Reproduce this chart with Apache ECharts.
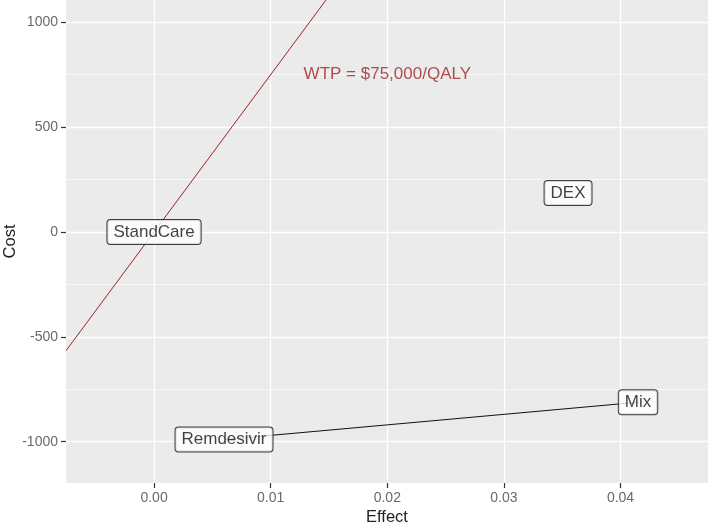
<!DOCTYPE html>
<html>
<head>
<meta charset="utf-8">
<script src="https://cdn.jsdelivr.net/npm/echarts@6/dist/echarts.min.js"></script>
<style>
  html, body { margin: 0; padding: 0; background: #fff; }
  #chart { width: 708px; height: 525px; }
</style>
</head>
<body>
<div id="chart"></div>
<script>
// strategies (effect in QALY, cost in $)
var strategies = ['StandCare', 'Remdesivir', 'DEX', 'Mix'];
var effects = [0.0, 0.006, 0.0355, 0.0415];
var costs = [0, -990, 186, -812];

// efficient frontier
var frontier = ['Remdesivir', 'Mix'];

// willingness to pay
var wtp = 75000;
var wtpText = 'WTP = $75,000/QALY';
var wtpTextPos = [0.02, 750];

// axis ranges and ticks
var xRange = [-0.00755, 0.0475];
var yRange = [-1197, 1106];
var xTicks = [0, 0.01, 0.02, 0.03, 0.04];
var xMinor = [-0.005, 0.005, 0.015, 0.025, 0.035, 0.045];
var yTicks = [-1000, -500, 0, 500, 1000];
var yMinor = [-750, -250, 250, 750];

var font = 'Liberation Sans, Arial, sans-serif';
var red = '#9E2424';

var chart = echarts.init(document.getElementById('chart'));

// gridlines, ggplot style
var gridLines = [];
xTicks.forEach(function (v) { gridLines.push({ xAxis: v, lineStyle: { width: 1.3 } }); });
xMinor.forEach(function (v) { gridLines.push({ xAxis: v, lineStyle: { width: 0.6 } }); });
yTicks.forEach(function (v) { gridLines.push({ yAxis: v, lineStyle: { width: 1.3 } }); });
yMinor.forEach(function (v) { gridLines.push({ yAxis: v, lineStyle: { width: 0.6 } }); });

var pointData = strategies.map(function (s, i) {
  return { name: s, value: [effects[i], costs[i]] };
});

var frontierData = frontier.map(function (s) {
  var i = strategies.indexOf(s);
  return [effects[i], costs[i]];
});

var wtpData = [[xRange[0], wtp * xRange[0]], [xRange[1], wtp * xRange[1]]];

chart.setOption({
  animation: false,
  grid: {
    left: 66, right: 0, top: 0, bottom: 42,
    outerBoundsMode: 'none', containLabel: false,
    show: true, backgroundColor: '#EBEBEB', borderWidth: 0
  },
  xAxis: {
    type: 'value',
    min: xRange[0], max: xRange[1],
    name: 'Effect', nameLocation: 'middle', nameGap: 26, nameMoveOverlap: false,
    nameTextStyle: { color: '#222', fontSize: 16.5, fontFamily: font },
    axisLine: { show: false, onZero: false },
    axisTick: { show: true, length: 5, customValues: xTicks, lineStyle: { color: '#333', width: 1.2 } },
    axisLabel: {
      customValues: xTicks, margin: 8, color: '#6a6a6a', fontSize: 14, fontFamily: font,
      formatter: function (v) { return v.toFixed(2); }
    },
    splitLine: { show: false }
  },
  yAxis: {
    type: 'value',
    min: yRange[0], max: yRange[1],
    name: 'Cost', nameLocation: 'middle', nameGap: 47, nameMoveOverlap: false,
    nameTextStyle: { color: '#222', fontSize: 16.5, fontFamily: font },
    axisLine: { show: false, onZero: false },
    axisTick: { show: true, length: 5, customValues: yTicks, lineStyle: { color: '#333', width: 1.2 } },
    axisLabel: {
      customValues: yTicks, margin: 8, color: '#6a6a6a', fontSize: 14, fontFamily: font,
      formatter: function (v) { return String(v); }
    },
    splitLine: { show: false }
  },
  series: [
    {
      type: 'scatter', data: [], z: 1, silent: true,
      markLine: {
        z: 1, silent: true, symbol: ['none', 'none'], animation: false,
        label: { show: false },
        lineStyle: { color: '#fff', type: 'solid' },
        data: gridLines
      }
    },
    {
      type: 'line', data: wtpData, z: 2, showSymbol: false, silent: true,
      lineStyle: { color: red, width: 1 }
    },
    {
      type: 'line', data: frontierData, z: 3, showSymbol: false, silent: true,
      lineStyle: { color: '#111', width: 1 }
    },
    {
      type: 'scatter', data: [{ value: wtpTextPos }], z: 4, symbolSize: 0, silent: true,
      label: {
        show: true, position: 'inside', formatter: wtpText,
        color: red, fontSize: 17, fontFamily: font
      }
    },
    {
      type: 'scatter', data: pointData, z: 5, symbolSize: 0, silent: true,
      label: {
        show: true, position: 'inside', formatter: '{b}',
        color: '#111', fontSize: 17, fontFamily: font,
        backgroundColor: '#fff', borderColor: '#111', borderWidth: 1, borderRadius: 3,
        padding: [4, 6, 3, 6]
      }
    }
  ]
});
</script>
</body>
</html>
